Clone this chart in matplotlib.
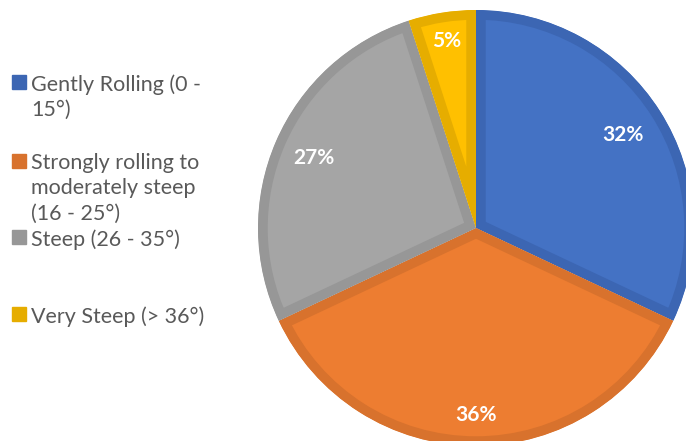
import matplotlib.pyplot as plt
from matplotlib.patches import Rectangle

# slope classes and their share of the area
labels = ["Gently Rolling (0 -\n15°)",
          "Strongly rolling to\nmoderately steep\n(16 - 25°)",
          "Steep (26 - 35°)",
          "Very Steep (> 36°)"]
shares = [32, 36, 27, 5]
fill_colors = ["#4472C4", "#ED7D31", "#A5A5A5", "#FFC000"]
edge_colors = ["#3C66B3", "#D8722D", "#979797", "#E6AD00"]

W, H = 686, 441
fig = plt.figure(figsize=(W / 100, H / 100), dpi=100)

# pie axes: centre at (476, 228) px, radius 218 px
cx, cy, r = 476, 228, 218
ax = fig.add_axes([(cx - r) / W, (H - cy - r) / H, 2 * r / W, 2 * r / H])

wedges, _, pcts = ax.pie(shares, radius=1, startangle=90, counterclock=False,
                         colors=fill_colors, autopct="%d%%", pctdistance=0.82,
                         wedgeprops=dict(linewidth=14),
                         textprops=dict(color="white", fontsize=15,
                                        fontweight="bold", family="Lato"))
ax.set_xlim(-1, 1)
ax.set_ylim(-1, 1)
ax.set_aspect("equal")
ax.axis("off")
for w, ec in zip(wedges, edge_colors):
    w.set_edgecolor(ec)
    w.set_clip_on(True)
    w.set_clip_path(w)  # keep only the inner half of the edge -> inner border

# nudge the percentage labels outwards a little where needed
label_dist = [0.80, 0.86, 0.81, 0.87]
for t, d in zip(pcts, label_dist):
    x, y = t.get_position()
    t.set_position((x * d / 0.82, y * d / 0.82))

# legend drawn by hand on the left
ys = [82, 161, 237, 314]
for lab, col, y in zip(labels, edge_colors, ys):
    fig.patches.append(Rectangle((12 / W, 1 - (y + 7) / H), 14 / W, 14 / H,
                                 transform=fig.transFigure, color=col))
    fig.text(31 / W, 1 - (y - 8) / H, lab, ha="left", va="top",
             fontsize=15.5, color="#595959", family="Lato", linespacing=1.34)

fig.savefig("out.png", dpi=100)
